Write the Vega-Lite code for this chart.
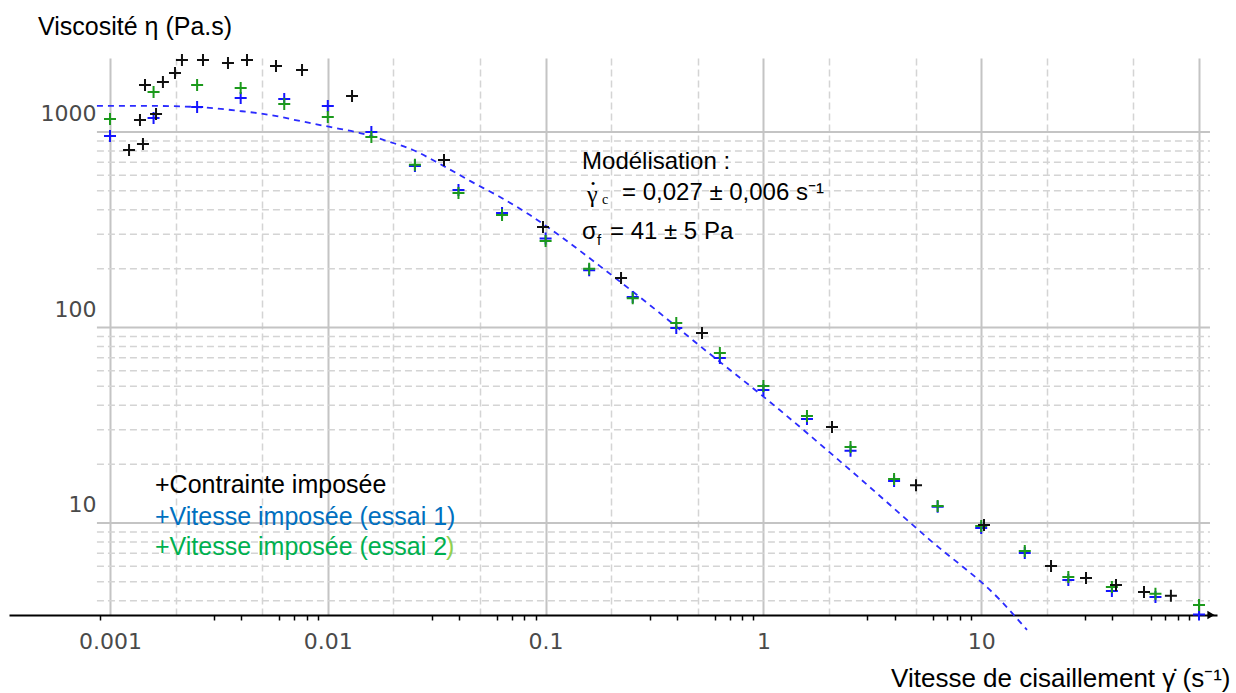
{
  "$schema": "https://vega.github.io/schema/vega-lite/v6.json",
  "autosize": "none",
  "padding": {"left": 9, "top": 58, "right": 19, "bottom": 78},
  "width": 1208,
  "height": 557,
  "background": "#ffffff",
  "config": {"view": {"stroke": null}},
  "title": {"text": "Viscosité η (Pa.s)", "anchor": "start", "frame": "group", "dx": 29, "offset": -10, "baseline": "alphabetic", "font": "Liberation Sans", "fontSize": 25, "fontWeight": "normal", "color": "#000000"},
  "datasets": {
    "hmajor": [{"y": 10}, {"y": 100}, {"y": 1000}],
    "hminor": [
      {"y": 4}, {"y": 5}, {"y": 6}, {"y": 7}, {"y": 8}, {"y": 9},
      {"y": 20}, {"y": 30}, {"y": 40}, {"y": 50}, {"y": 60}, {"y": 70}, {"y": 80}, {"y": 90},
      {"y": 200}, {"y": 300}, {"y": 400}, {"y": 500}, {"y": 600}, {"y": 700}, {"y": 800}, {"y": 900}
    ],
    "fit": [
      {"x": 0.000871, "y": 1359}, {"x": 0.001527, "y": 1359}, {"x": 0.002508, "y": 1342}, {"x": 0.003952, "y": 1280},
      {"x": 0.005428, "y": 1222}, {"x": 0.007456, "y": 1138}, {"x": 0.01023, "y": 1061}, {"x": 0.01405, "y": 988},
      {"x": 0.0193, "y": 889}, {"x": 0.02461, "y": 809}, {"x": 0.03274, "y": 686}, {"x": 0.04497, "y": 562},
      {"x": 0.06174, "y": 465}, {"x": 0.08479, "y": 376}, {"x": 0.1164, "y": 294}, {"x": 0.1777, "y": 206},
      {"x": 0.3015, "y": 130}, {"x": 0.5117, "y": 80.4}, {"x": 1.072, "y": 41.6}, {"x": 2.498, "y": 18.7},
      {"x": 5.821, "y": 8.18}, {"x": 12.2, "y": 4.04}, {"x": 16.23, "y": 2.84}
    ],
    "pts": [
      {"s": "v1", "x": 0.001, "y": 954}, {"s": "v1", "x": 0.001585, "y": 1179}, {"s": "v1", "x": 0.002512, "y": 1342},
      {"s": "v1", "x": 0.003981, "y": 1493}, {"s": "v1", "x": 0.00631, "y": 1475}, {"s": "v1", "x": 0.01, "y": 1359},
      {"s": "v1", "x": 0.01585, "y": 1000}, {"s": "v1", "x": 0.02512, "y": 670}, {"s": "v1", "x": 0.03981, "y": 505},
      {"s": "v1", "x": 0.0631, "y": 385}, {"s": "v1", "x": 0.1, "y": 285}, {"s": "v1", "x": 0.1585, "y": 196},
      {"s": "v1", "x": 0.2512, "y": 143}, {"s": "v1", "x": 0.3981, "y": 99.4}, {"s": "v1", "x": 0.631, "y": 69.8},
      {"s": "v1", "x": 1, "y": 47.9}, {"s": "v1", "x": 1.585, "y": 34.0}, {"s": "v1", "x": 2.512, "y": 23.4},
      {"s": "v1", "x": 3.981, "y": 16.4}, {"s": "v1", "x": 6.31, "y": 12.1}, {"s": "v1", "x": 10, "y": 9.42},
      {"s": "v1", "x": 15.85, "y": 7.03}, {"s": "v1", "x": 25.12, "y": 5.11}, {"s": "v1", "x": 39.81, "y": 4.49},
      {"s": "v1", "x": 63.1, "y": 4.18}, {"s": "v1", "x": 100, "y": 3.4},
      {"s": "v2", "x": 0.001, "y": 1165}, {"s": "v2", "x": 0.001585, "y": 1602}, {"s": "v2", "x": 0.002512, "y": 1739},
      {"s": "v2", "x": 0.003981, "y": 1679}, {"s": "v2", "x": 0.00631, "y": 1390}, {"s": "v2", "x": 0.01, "y": 1193},
      {"s": "v2", "x": 0.01585, "y": 943}, {"s": "v2", "x": 0.02512, "y": 680}, {"s": "v2", "x": 0.03981, "y": 488},
      {"s": "v2", "x": 0.0631, "y": 376}, {"s": "v2", "x": 0.1, "y": 277}, {"s": "v2", "x": 0.1585, "y": 200},
      {"s": "v2", "x": 0.2512, "y": 141}, {"s": "v2", "x": 0.3981, "y": 105.4}, {"s": "v2", "x": 0.631, "y": 74.1},
      {"s": "v2", "x": 1, "y": 50.2}, {"s": "v2", "x": 1.585, "y": 35.3}, {"s": "v2", "x": 2.512, "y": 24.5},
      {"s": "v2", "x": 3.981, "y": 16.8}, {"s": "v2", "x": 6.31, "y": 12.2}, {"s": "v2", "x": 10, "y": 9.66},
      {"s": "v2", "x": 15.85, "y": 7.2}, {"s": "v2", "x": 25.12, "y": 5.3}, {"s": "v2", "x": 39.81, "y": 4.71},
      {"s": "v2", "x": 63.1, "y": 4.34}, {"s": "v2", "x": 100, "y": 3.81},
      {"s": "c", "x": 0.001223, "y": 809}, {"s": "c", "x": 0.001373, "y": 1152}, {"s": "c", "x": 0.001417, "y": 868},
      {"s": "c", "x": 0.001448, "y": 1740}, {"s": "c", "x": 0.001627, "y": 1236}, {"s": "c", "x": 0.00175, "y": 1803},
      {"s": "c", "x": 0.001988, "y": 2004}, {"s": "c", "x": 0.00214, "y": 2335}, {"s": "c", "x": 0.002673, "y": 2335},
      {"s": "c", "x": 0.003481, "y": 2254}, {"s": "c", "x": 0.004256, "y": 2335}, {"s": "c", "x": 0.005783, "y": 2176},
      {"s": "c", "x": 0.007615, "y": 2076}, {"s": "c", "x": 0.01292, "y": 1528}, {"s": "c", "x": 0.03416, "y": 719},
      {"s": "c", "x": 0.09729, "y": 327}, {"s": "c", "x": 0.222, "y": 179}, {"s": "c", "x": 0.5225, "y": 93.8},
      {"s": "c", "x": 2.065, "y": 31.0}, {"s": "c", "x": 5.02, "y": 15.6}, {"s": "c", "x": 10.3, "y": 9.77},
      {"s": "c", "x": 20.92, "y": 6.03}, {"s": "c", "x": 30.28, "y": 5.23}, {"s": "c", "x": 41.58, "y": 4.82},
      {"s": "c", "x": 55.9, "y": 4.44}, {"s": "c", "x": 74.3, "y": 4.24}
    ]
  },
  "layer": [
    {
      "data": {"name": "pts"},
      "mark": {"type": "point", "shape": "M-1,0H1M0,-1V1", "filled": false, "size": 144, "strokeWidth": 2, "opacity": 0},
      "encoding": {
        "x": {
          "field": "x", "type": "quantitative",
          "scale": {"type": "log", "domain": [0.0003438, 120.95], "nice": false, "zero": false},
          "axis": {
            "orient": "bottom",
            "values": [0.0009, 0.001, 0.002, 0.003, 0.004, 0.005, 0.006, 0.007, 0.008, 0.009,
                       0.01, 0.02, 0.03, 0.04, 0.05, 0.06, 0.07, 0.08, 0.09,
                       0.1, 0.2, 0.3, 0.4, 0.5, 0.6, 0.7, 0.8, 0.9,
                       1, 2, 3, 4, 5, 6, 7, 8, 9,
                       10, 20, 30, 40, 50, 60, 70, 80, 90, 100],
            "format": "~g",
            "labelExpr": "indexof([0.001, 0.01, 0.1, 1, 10], datum.value) >= 0 ? datum.label : ''",
            "labelFont": "DejaVu Sans", "labelFontSize": 22, "labelColor": "#4a4a4a",
            "labelBaseline": "middle", "labelPadding": 21, "labelFlush": false, "labelOverlap": false,
            "domainColor": "#000000", "domainWidth": 2,
            "tickColor": "#000000", "tickWidth": 1.5, "tickSize": 5,
            "tickOpacity": {"condition": {"test": "indexof([0.001, 0.002, 0.005, 0.01, 0.02, 0.05, 0.1, 0.2, 0.5, 1, 2, 5, 10, 20, 50, 100], datum.value) >= 0", "value": 0}, "value": 1},
            "grid": true,
            "gridColor": {"condition": {"test": "indexof([0.001, 0.01, 0.1, 1, 10, 100], datum.value) >= 0", "value": "#c4c4c4"}, "value": "#d4d4d4"},
            "gridWidth": {"condition": {"test": "indexof([0.001, 0.01, 0.1, 1, 10, 100], datum.value) >= 0", "value": 2}, "value": 1.5},
            "gridDash": {"condition": {"test": "indexof([0.001, 0.01, 0.1, 1, 10, 100], datum.value) >= 0", "value": []}, "value": [7, 4]},
            "gridOpacity": {"condition": {"test": "indexof([0.001, 0.002, 0.005, 0.01, 0.02, 0.05, 0.1, 0.2, 0.5, 1, 2, 5, 10, 20, 50, 100], datum.value) >= 0", "value": 1}, "value": 0},
            "title": "Vitesse de cisaillement  γ̇   (s⁻¹)",
            "titleFont": "Liberation Sans", "titleFontSize": 26, "titleFontWeight": "normal", "titleColor": "#000000",
            "titleAnchor": "end", "titleAlign": "right", "titleBaseline": "middle", "titleX": 1221, "titleY": 63
          }
        },
        "y": {
          "field": "y", "type": "quantitative",
          "scale": {"type": "log", "domain": [3.384, 2390], "nice": false, "zero": false},
          "axis": {
            "values": [10, 100, 1000],
            "format": "d",
            "offset": -88,
            "domain": false, "ticks": false, "tickSize": 0, "grid": false,
            "labelFont": "DejaVu Sans", "labelFontSize": 22, "labelColor": "#4a4a4a",
            "labelPadding": 1, "labelBaseline": "middle", "labelOffset": -18, "labelFlush": false, "labelOverlap": false,
            "title": null
          }
        }
      }
    },
    {
      "data": {"name": "hminor"},
      "mark": {"type": "rule", "color": "#d4d4d4", "strokeWidth": 1.5, "strokeDash": [7, 4]},
      "encoding": {
        "x": {"datum": 0.000871, "type": "quantitative"},
        "x2": {"datum": 112.3},
        "y": {"field": "y", "type": "quantitative"}
      }
    },
    {
      "data": {"name": "hmajor"},
      "mark": {"type": "rule", "color": "#c4c4c4", "strokeWidth": 2},
      "encoding": {
        "x": {"datum": 0.000871, "type": "quantitative"},
        "x2": {"datum": 112.3},
        "y": {"field": "y", "type": "quantitative"}
      }
    },
    {
      "data": {"name": "fit"},
      "mark": {"type": "line", "color": "#2b2bff", "strokeWidth": 1.8, "strokeDash": [6, 5], "interpolate": "monotone"},
      "encoding": {
        "x": {"field": "x", "type": "quantitative"},
        "y": {"field": "y", "type": "quantitative"}
      }
    },
    {
      "data": {"name": "pts"},
      "mark": {"type": "point", "shape": "M-1,0H1M0,-1V1", "filled": false, "size": 144, "strokeWidth": 2, "opacity": 1},
      "encoding": {
        "x": {"field": "x", "type": "quantitative"},
        "y": {"field": "y", "type": "quantitative"},
        "color": {"field": "s", "type": "nominal", "scale": {"domain": ["v1", "v2", "c"], "range": ["#1515ff", "#1c9a1c", "#111111"]}, "legend": null}
      }
    },
    {
      "data": {"values": [{}]},
      "mark": {"type": "point", "shape": "triangle-right", "filled": true, "size": 70, "color": "#000000", "opacity": 1},
      "encoding": {"x": {"datum": 113.5, "type": "quantitative"}, "y": {"datum": 3.384, "type": "quantitative"}}
    },
    {
      "data": {"values": [{}]},
      "mark": {"type": "text", "align": "left", "baseline": "middle", "font": "Liberation Sans", "fontSize": 25, "color": "#000000"},
      "encoding": {"x": {"datum": 0.001609, "type": "quantitative"}, "y": {"datum": 15.65, "type": "quantitative"}, "text": {"value": "+Contrainte imposée"}}
    },
    {
      "data": {"values": [{}]},
      "mark": {"type": "text", "align": "left", "baseline": "middle", "font": "Liberation Sans", "fontSize": 25, "color": "#0070c0"},
      "encoding": {"x": {"datum": 0.001609, "type": "quantitative"}, "y": {"datum": 10.73, "type": "quantitative"}, "text": {"value": "+Vitesse imposée (essai 1)"}}
    },
    {
      "data": {"values": [{}]},
      "mark": {"type": "text", "align": "left", "baseline": "middle", "font": "Liberation Sans", "fontSize": 25, "color": "#00b050"},
      "encoding": {"x": {"datum": 0.001609, "type": "quantitative"}, "y": {"datum": 7.54, "type": "quantitative"}, "text": {"value": "+Vitesse imposée (essai 2"}}
    },
    {
      "data": {"values": [{}]},
      "mark": {"type": "text", "align": "left", "baseline": "middle", "font": "Liberation Sans", "fontSize": 25, "color": "#92d050"},
      "encoding": {"x": {"datum": 0.03489, "type": "quantitative"}, "y": {"datum": 7.54, "type": "quantitative"}, "text": {"value": ")"}}
    },
    {
      "data": {"values": [{}]},
      "mark": {"type": "text", "align": "left", "baseline": "middle", "font": "Liberation Sans", "fontSize": 24, "color": "#000000"},
      "encoding": {"x": {"datum": 0.147, "type": "quantitative"}, "y": {"datum": 702, "type": "quantitative"}, "text": {"value": "Modélisation :"}}
    },
    {
      "data": {"values": [{}]},
      "mark": {"type": "text", "align": "left", "baseline": "middle", "font": "Liberation Serif", "fontSize": 24, "color": "#000000"},
      "encoding": {"x": {"datum": 0.1549, "type": "quantitative"}, "y": {"datum": 476, "type": "quantitative"}, "text": {"value": "γ"}}
    },
    {
      "data": {"values": [{}]},
      "mark": {"type": "text", "align": "center", "baseline": "middle", "font": "Liberation Serif", "fontSize": 26, "color": "#000000"},
      "encoding": {"x": {"datum": 0.1651, "type": "quantitative"}, "y": {"datum": 542, "type": "quantitative"}, "text": {"value": "·"}}
    },
    {
      "data": {"values": [{}]},
      "mark": {"type": "text", "align": "left", "baseline": "middle", "font": "Liberation Serif", "fontSize": 14, "color": "#000000"},
      "encoding": {"x": {"datum": 0.1816, "type": "quantitative"}, "y": {"datum": 449, "type": "quantitative"}, "text": {"value": "c"}}
    },
    {
      "data": {"values": [{}]},
      "mark": {"type": "text", "align": "left", "baseline": "middle", "font": "Liberation Sans", "fontSize": 24, "color": "#000000"},
      "encoding": {"x": {"datum": 0.2243, "type": "quantitative"}, "y": {"datum": 487.5, "type": "quantitative"}, "text": {"value": "= 0,027 ± 0,006 s⁻¹"}}
    },
    {
      "data": {"values": [{}]},
      "mark": {"type": "text", "align": "left", "baseline": "middle", "font": "Liberation Sans", "fontSize": 24, "color": "#000000"},
      "encoding": {"x": {"datum": 0.147, "type": "quantitative"}, "y": {"datum": 307.9, "type": "quantitative"}, "text": {"value": "σ"}}
    },
    {
      "data": {"values": [{}]},
      "mark": {"type": "text", "align": "left", "baseline": "middle", "font": "Liberation Sans", "fontSize": 15, "color": "#000000"},
      "encoding": {"x": {"datum": 0.1722, "type": "quantitative"}, "y": {"datum": 280.4, "type": "quantitative"}, "text": {"value": "f"}}
    },
    {
      "data": {"values": [{}]},
      "mark": {"type": "text", "align": "left", "baseline": "middle", "font": "Liberation Sans", "fontSize": 24, "color": "#000000"},
      "encoding": {"x": {"datum": 0.1975, "type": "quantitative"}, "y": {"datum": 307.9, "type": "quantitative"}, "text": {"value": "= 41 ± 5 Pa"}}
    }
  ]
}
